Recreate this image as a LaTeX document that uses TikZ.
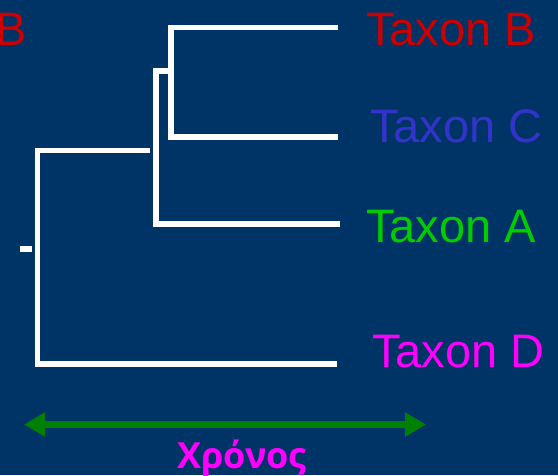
\documentclass[tikz,border=0pt]{standalone}
\usepackage{fontspec}
\setmainfont{Liberation Sans}
\newfontfamily\greekbold[Script=Greek]{Open Sans}
\usetikzlibrary{arrows.meta}
\definecolor{bg}{RGB}{0,51,102}
\definecolor{taxB}{RGB}{204,0,0}
\definecolor{taxC}{RGB}{51,51,204}
\definecolor{taxA}{RGB}{0,204,0}
\definecolor{taxD}{RGB}{255,0,255}
\definecolor{timearrow}{RGB}{0,128,0}
\tikzset{
  branch/.style={draw=white, line width=5.5pt},
  taxlabel/.style={anchor=base west, inner sep=0pt, font=\fontsize{47}{50}\selectfont},
}
\begin{document}
\begin{tikzpicture}[x=1pt,y=-1pt]
\fill[bg] (0,0) rectangle (558,475);
\useasboundingbox (0,0) rectangle (558,475);
% coordinates of the tree
\coordinate (bTop) at (171,27.5);
\coordinate (bEnd) at (338,27.5);
\coordinate (cBot) at (171,137);
\coordinate (cEnd) at (338,137);
\coordinate (bcStub) at (171,71);
\coordinate (aTop) at (156,71);
\coordinate (aBot) at (156,224);
\coordinate (aEnd) at (340,224);
\coordinate (rStub) at (150,150.5);
\coordinate (rTop) at (37.5,150.5);
\coordinate (rBot) at (37.5,364);
\coordinate (dEnd) at (337,364);
\coordinate (sL) at (20,249);
\coordinate (sR) at (32,249);
% branches
\draw[branch] (bEnd) -- (bTop) -- (cBot) -- (cEnd);
\draw[branch] (bcStub) -- (aTop) -- (aBot) -- (aEnd);
\draw[branch] (rStub) -- (rTop) -- (rBot) -- (dEnd);
\draw[branch] (sL) -- (sR);
% labels
\node[taxlabel, text=taxB] (lb) at (366,45) {Taxon B};
\node[taxlabel, text=taxC] (lc) at (370,142) {Taxon C};
\node[taxlabel, text=taxA] (la) at (366,242) {Taxon A};
\node[taxlabel, text=taxD] (ld) at (372,367) {Taxon D};
\node[anchor=base east, inner sep=0pt, text=taxB, font=\fontsize{47}{50}\selectfont] (lbcut) at (27,45) {B};
% time arrow
\coordinate (tL) at (24,424.5);
\coordinate (tR) at (426,424.5);
\draw[timearrow, line width=7pt, {Triangle[length=21pt,width=23pt]}-{Triangle[length=21pt,width=23pt]}] (tL) -- (tR);
\node[anchor=base, inner sep=0pt, text=taxD, font=\greekbold\bfseries\fontsize{36}{40}\selectfont] (time) at (242,468) {Χρόνος};
\end{tikzpicture}
\end{document}
